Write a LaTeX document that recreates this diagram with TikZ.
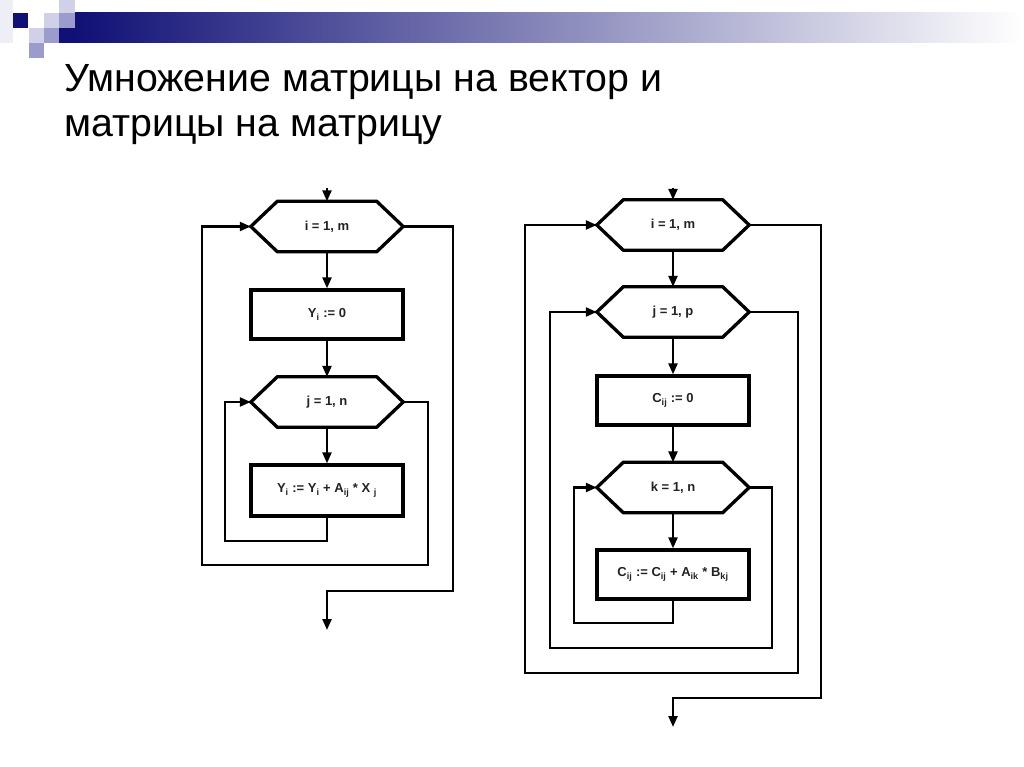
\documentclass[tikz,border=0pt]{standalone}
\usepackage{fontspec}
\setmainfont{Liberation Sans}
\usetikzlibrary{arrows.meta,calc}
\definecolor{navy}{RGB}{16,16,118}
\definecolor{barmid}{RGB}{176,176,196}
\definecolor{sqlight}{RGB}{208,208,232}
\definecolor{sqmid}{RGB}{156,156,204}
\definecolor{sqfaint}{RGB}{238,238,246}
\definecolor{txt}{RGB}{34,34,34}
\newcommand\hexdraw[1]{\draw[shapeline] ($(#1.north west)+(26.5,0)$) -- ($(#1.north east)+(-26.5,0)$) -- (#1.east) -- ($(#1.south east)+(-26.5,0)$) -- ($(#1.south west)+(26.5,0)$) -- (#1.west) -- cycle;}
\begin{document}
\begin{tikzpicture}[x=1pt,y=-1pt,
  shapeline/.style={draw=black, line width=3.3pt, line join=miter},
  boxtext/.style={font=\fontsize{13}{15}\selectfont\bfseries, text=txt},
  rectbox/.style={shapeline, boxtext, minimum width=152pt, inner sep=0pt},
  hexnode/.style={boxtext, minimum width=152pt, minimum height=50pt, inner sep=0pt},
  conn/.style={draw=black, line width=2.3pt},
  arr/.style={conn, -{Triangle[length=11pt,width=9pt]}},
  titletext/.style={anchor=base west, font=\fontsize{39.3}{46}\selectfont, text=black, inner sep=0pt}
]
\useasboundingbox (0,0) rectangle (1024,767);
\fill[white] (0,0) rectangle (1024,767);
% header decoration
\fill[sqfaint] (0,0) rectangle (13,43);
\fill[navy] (13,13) rectangle (28,28);
\fill[sqlight] (44,13) rectangle (59,28);
\fill[sqlight] (59,0) rectangle (75,13);
\fill[sqmid] (59,13) rectangle (75,28);
\fill[navy] (59,28) rectangle (75,43);
\fill[sqlight] (29,28) rectangle (44,43);
\fill[sqmid] (44,28) rectangle (59,43);
\fill[sqmid] (29,43) rectangle (44,58);
\shade[left color=navy, middle color=barmid, right color=white] (75,13) rectangle (1022,43);
% title
\node[titletext] (t1) at (64,92) {Умножение матрицы на вектор и};
\node[titletext] (t2) at (64,137) {матрицы на матрицу};

% ---------- left flowchart ----------
\coordinate (inL) at (327,188);
\node[hexnode] (iL) at (327,226.5) {i = 1, m};
\node[rectbox, minimum height=49pt] (yL) at (327,314.5) {Y\textsubscript{i} := 0};
\node[hexnode] (jL) at (327,402) {j = 1, n};
\node[rectbox, minimum height=51pt] (sL) at (327,490.5) {Y\textsubscript{i} := Y\textsubscript{i} + A\textsubscript{ij} * X \textsubscript{j}};
\coordinate (outL) at (327,630);
\hexdraw{iL}
\hexdraw{jL}
\draw[arr] (inL) -- (iL);
\draw[arr] (iL) -- (yL);
\draw[arr] (yL) -- (jL);
\draw[arr] (jL) -- (sL);
\draw[arr] (sL.south) |- (225,541) |- (jL.west);
\draw[arr] (jL.east) -- (428,402) |- (202,565) |- (iL.west);
\draw[arr] (iL.east) -| (453,591) -| (outL);

% ---------- right flowchart ----------
\coordinate (inR) at (673,188);
\node[hexnode] (iR) at (673,225) {i = 1, m};
\node[hexnode] (jR) at (673,312) {j = 1, p};
\node[rectbox, minimum height=49pt] (cR) at (673,400.5) {C\textsubscript{ij} := 0};
\node[hexnode] (kR) at (673,487.5) {k = 1, n};
\node[rectbox, minimum height=49pt] (sR) at (673,574.5) {C\textsubscript{ij} := C\textsubscript{ij} + A\textsubscript{ik} * B\textsubscript{kj}};
\coordinate (outR) at (673,727);
\hexdraw{iR}
\hexdraw{jR}
\hexdraw{kR}
\draw[arr] (inR) -- (iR);
\draw[arr] (iR) -- (jR);
\draw[arr] (jR) -- (cR);
\draw[arr] (cR) -- (kR);
\draw[arr] (kR) -- (sR);
\draw[arr] (sR.south) |- (574,623) |- (kR.west);
\draw[arr] (kR.east) -- (772,487.5) |- (550,648) |- (jR.west);
\draw[arr] (jR.east) -- (798,312) |- (525,673) |- (iR.west);
\draw[arr] (iR.east) -| (821,698) -| (outR);
\end{tikzpicture}
\end{document}
